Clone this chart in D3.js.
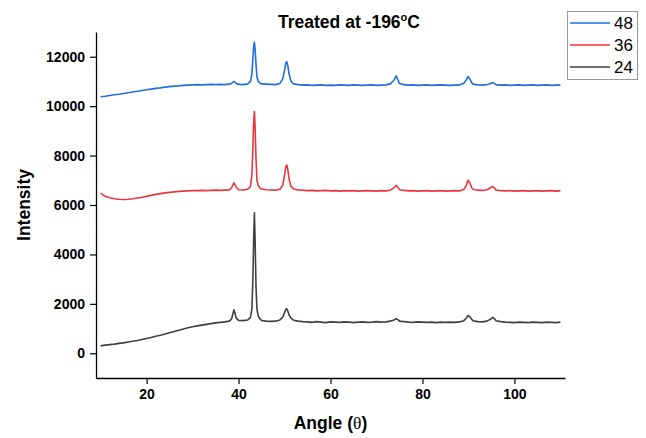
<!DOCTYPE html>
<html>
<head>
<meta charset="utf-8">
<script src="https://cdn.jsdelivr.net/npm/d3@7"></script>
<style>
  body { margin: 0; background: #fff; }
  svg { display: block; font-family: "Liberation Sans", Arial, sans-serif; }
</style>
</head>
<body>
<div id="chart"></div>
<script>
// XRD scans, sample treated at -196 C (24, 36, 48 h)

// angle grid (2 theta), denser around the peaks
var angles = [
  10, 11, 12, 13, 14, 15, 16, 17, 18, 19, 20, 21, 22, 23, 24, 25, 26, 27, 28, 29, 30, 31, 32, 33, 34, 35, 36, 37, 38,
  38.5, 39, 39.5,
  40, 41, 42,
  42.6, 42.9, 43.1, 43.3, 43.45, 43.6, 43.8, 44.0, 44.3, 44.7,
  45, 46, 47, 48, 49,
  49.6, 50.0, 50.3, 50.5, 50.7, 51.0, 51.4,
  52, 53, 54, 55, 56, 57, 58, 59, 60, 61, 62, 63, 64, 65, 66, 67, 68, 69, 70, 71, 72, 73,
  73.8, 74.3, 74.8,
  75, 76, 77, 78, 79, 80, 81, 82, 83, 84, 85, 86, 87, 88, 89,
  89.5, 89.9, 90.3, 90.7,
  91, 92, 93, 94,
  94.8, 95.3, 95.8,
  96, 97, 98, 99, 100, 101, 102, 103, 104, 105, 106, 107, 108, 109, 110
];

var int24 = [
  300, 330, 350, 370, 400, 420, 460, 490, 520, 560, 600, 640, 690, 730, 780, 830, 880, 930, 980, 1030, 1070, 1110, 1140, 1170, 1200, 1230, 1250, 1270, 1300,
  1400, 1760, 1420,
  1330, 1320, 1350,
  1450, 1800, 2900, 4700, 5680, 4600, 2700, 1800, 1500, 1380,
  1330, 1300, 1290, 1300, 1350,
  1450, 1650, 1780, 1800, 1720, 1550, 1420,
  1340, 1300, 1280, 1270, 1250, 1280, 1260, 1240, 1270, 1260, 1250, 1270, 1260, 1240, 1260, 1270, 1250, 1260, 1280, 1260, 1270, 1300,
  1350, 1400, 1340,
  1300, 1280, 1260, 1250, 1270, 1260, 1250, 1260, 1240, 1260, 1250, 1260, 1250, 1270, 1320,
  1420, 1530, 1480, 1380,
  1320, 1280, 1270, 1300,
  1380, 1450, 1370,
  1320, 1280, 1260, 1250, 1240, 1260, 1250, 1240, 1260, 1250, 1240, 1260, 1250, 1240, 1260
];

var int36 = [
  6480, 6350, 6290, 6250, 6230, 6220, 6230, 6250, 6280, 6310, 6350, 6390, 6430, 6460, 6490, 6510, 6530, 6550, 6560, 6570, 6580, 6580, 6590, 6580, 6590, 6600, 6590, 6600, 6610,
  6700, 6900, 6720,
  6620, 6610, 6640,
  6750, 7200, 8200, 9400, 9780, 9200, 7900, 7000, 6780, 6680,
  6650, 6620, 6610, 6600, 6640,
  6800, 7200, 7550, 7620, 7450, 7050, 6750,
  6650, 6610, 6600, 6580, 6590, 6570, 6580, 6590, 6570, 6580, 6560, 6580, 6570, 6580, 6560, 6570, 6580, 6570, 6560, 6580, 6570, 6600,
  6700, 6800, 6680,
  6620, 6590, 6570, 6580, 6560, 6570, 6580, 6560, 6570, 6580, 6560, 6570, 6580, 6570, 6630,
  6780, 7000, 6900, 6700,
  6640, 6600, 6590, 6620,
  6700, 6750, 6660,
  6610, 6580, 6570, 6580, 6560, 6570, 6580, 6560, 6570, 6580, 6560, 6570, 6580, 6560, 6570
];

var int48 = [
  10380, 10400, 10430, 10460, 10480, 10510, 10540, 10570, 10600, 10630, 10660, 10690, 10720, 10740, 10770, 10790, 10810, 10820, 10840, 10850, 10860, 10870, 10860, 10870, 10880, 10870, 10880, 10870, 10890,
  10930, 11000, 10920,
  10880, 10870, 10900,
  11000, 11300, 11900, 12450, 12580, 12300, 11700, 11200, 11000, 10930,
  10900, 10890, 10880, 10870, 10920,
  11100, 11450, 11750, 11800, 11650, 11300, 11000,
  10900, 10870, 10850, 10860, 10840, 10850, 10860, 10840, 10850, 10840, 10860, 10850, 10840, 10860, 10850, 10840, 10850, 10860, 10840, 10850, 10860, 10900,
  11050, 11220, 11000,
  10920, 10870, 10850, 10860, 10840, 10850, 10860, 10840, 10850, 10860, 10850, 10840, 10850, 10860, 10930,
  11050, 11200, 11100, 10950,
  10890, 10860, 10850, 10870,
  10920, 10950, 10900,
  10870, 10850, 10860, 10840, 10850, 10860, 10840, 10850, 10860, 10840, 10850, 10860, 10840, 10850, 10850
];

var seriesNames = ["48", "36", "24"];
var seriesColors = ["#1f6fdc", "#e8383f", "#404040"];
var seriesValues = [int48, int36, int24];

var xMajor = [20, 40, 60, 80, 100];
var xMinor = [10, 30, 50, 70, 90, 110];
var yMajor = [0, 2000, 4000, 6000, 8000, 10000, 12000];
var yMinor = [-1000, 1000, 3000, 5000, 7000, 9000, 11000, 13000];

var width = 646, height = 438;
var margin = {top: 32, right: 81, bottom: 60, left: 96};

var svg = d3.select("#chart")
  .append("svg")
  .attr("width", width)
  .attr("height", height);

var x = d3.scaleLinear()
  .domain([9, 111])
  .range([margin.left, width - margin.right]);

var y = d3.scaleLinear()
  .domain([-1000, 13000])
  .range([height - margin.bottom, margin.top]);

// series
var line = d3.line()
  .x(function(d) { return x(d[0]); })
  .y(function(d) { return y(d[1]); });

seriesValues.forEach(function(vals, i) {
  var pts = angles.map(function(a, j) { return [a, vals[j]]; });
  svg.append("path")
    .datum(pts)
    .attr("fill", "none")
    .attr("stroke", seriesColors[i])
    .attr("stroke-width", 1.6)
    .attr("stroke-linejoin", "round")
    .attr("d", line);
});

// axes
var fmt = d3.format("d");

var gx = svg.append("g")
  .attr("transform", "translate(0," + (height - margin.bottom) + ")");
gx.call(d3.axisBottom(x).tickValues(xMinor).tickFormat("").tickSize(3).tickSizeOuter(0));
gx.call(d3.axisBottom(x).tickValues(xMajor).tickFormat(fmt).tickSize(6).tickSizeOuter(0).tickPadding(5));

var gy = svg.append("g")
  .attr("transform", "translate(" + margin.left + ",0)");
gy.call(d3.axisLeft(y).tickValues(yMinor).tickFormat("").tickSize(4).tickSizeOuter(0));
gy.call(d3.axisLeft(y).tickValues(yMajor).tickFormat(fmt).tickSize(6).tickSizeOuter(0).tickPadding(5));

svg.selectAll(".domain").attr("stroke", "#000").attr("stroke-width", 1.3);
svg.selectAll(".tick line").attr("stroke", "#000").attr("stroke-width", 1.2);
svg.selectAll(".tick text")
  .attr("fill", "#000")
  .style("font-family", "'Liberation Sans', Arial, sans-serif")
  .style("font-size", "14px")
  .style("font-weight", "bold");

// axis titles
var xTitle = svg.append("text")
  .attr("x", (x.range()[0] + x.range()[1]) / 2)
  .attr("y", 429)
  .attr("text-anchor", "middle")
  .style("font-size", "17.5px")
  .style("font-weight", "bold");
xTitle.append("tspan").text("Angle (");
xTitle.append("tspan")
  .style("font-family", "'Liberation Serif', 'Times New Roman', serif")
  .style("font-weight", "normal")
  .text("\u03b8");
xTitle.append("tspan").text(")");

svg.append("text")
  .attr("transform", "translate(30," + ((y.range()[0] + y.range()[1]) / 2) + ") rotate(-90)")
  .attr("text-anchor", "middle")
  .style("font-size", "17.5px")
  .style("font-weight", "bold")
  .text("Intensity");

// title
var title = svg.append("text")
  .attr("x", 349)
  .attr("y", 28)
  .attr("text-anchor", "middle")
  .style("font-size", "17.5px")
  .style("font-weight", "bold");
title.append("tspan").text("Treated at -196");
title.append("tspan").attr("dy", -7).style("font-size", "11px").text("o");
title.append("tspan").attr("dy", 7).text("C");

// legend
var legend = svg.append("g").attr("transform", "translate(567,11)");
legend.append("rect")
  .attr("x", 0.5)
  .attr("y", 0.5)
  .attr("width", 70)
  .attr("height", 68)
  .attr("fill", "#fff")
  .attr("stroke", "#999")
  .attr("stroke-width", 1);

var item = legend.selectAll(".item")
  .data(seriesNames)
  .enter()
  .append("g")
  .attr("class", "item")
  .attr("transform", function(d, i) { return "translate(0," + (12 + i * 22) + ")"; });

item.append("line")
  .attr("x1", 3)
  .attr("x2", 43)
  .attr("stroke", function(d, i) { return seriesColors[i]; })
  .attr("stroke-width", 1.3);

item.append("text")
  .attr("x", 47)
  .attr("y", 6)
  .style("font-size", "17px")
  .text(function(d) { return d; });
</script>
</body>
</html>
